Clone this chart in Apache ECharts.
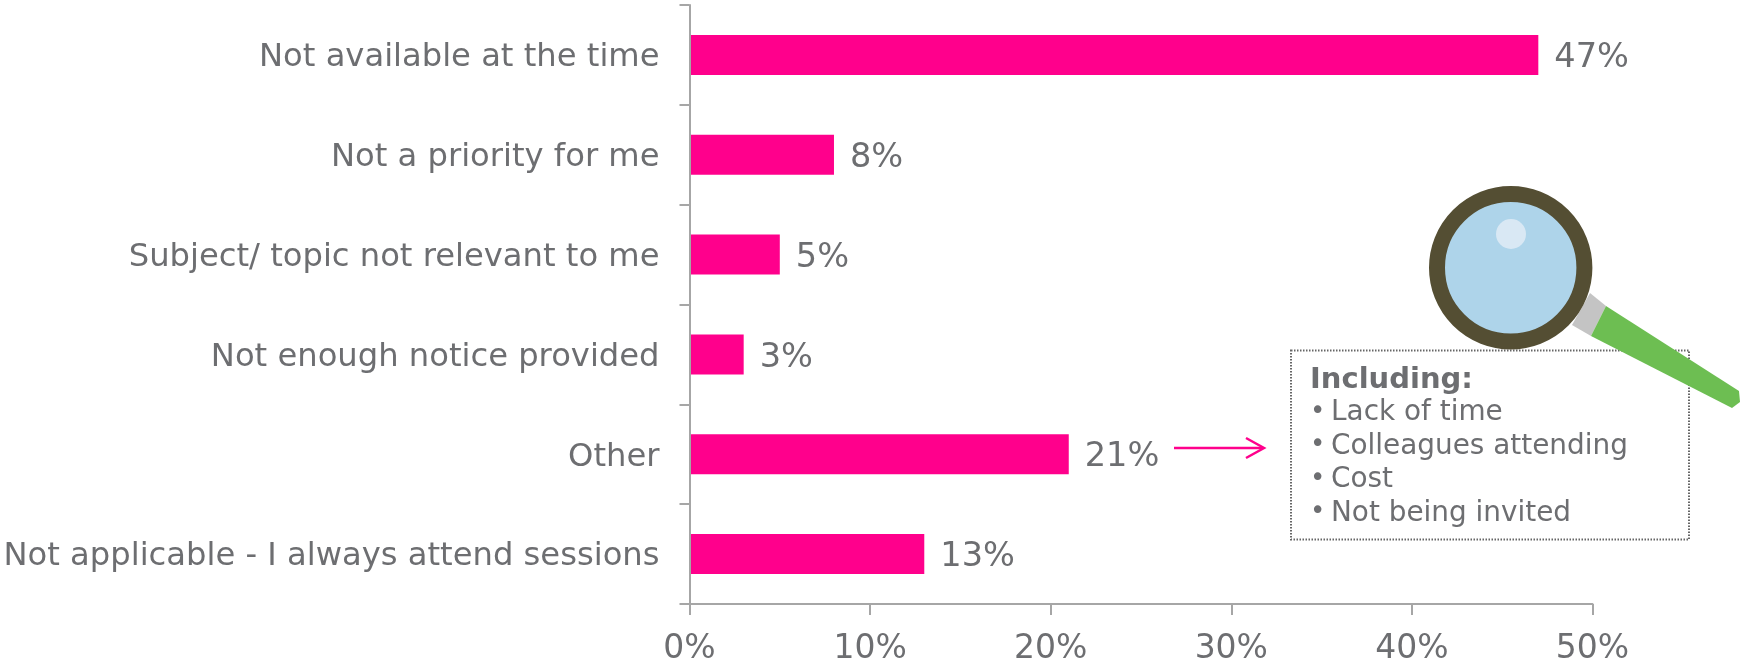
<!DOCTYPE html>
<html>
<head>
<meta charset="utf-8">
<style>html,body{margin:0;padding:0;background:#fff}#chart{width:1740px;height:663px}</style>
<script src="https://cdn.jsdelivr.net/npm/echarts@6/dist/echarts.min.js"></script>
</head>
<body>
<div id="chart"></div>
<script>
const categories = [
  'Not available at the time',
  'Not a priority for me',
  'Subject/ topic not relevant to me',
  'Not enough notice provided',
  'Other',
  'Not applicable - I always attend sessions'
];
const shares = [47, 8, 5, 3, 21, 13];
const otherReasonsTitle = 'Including:';
const otherReasons = ['Lack of time', 'Colleagues attending', 'Cost', 'Not being invited'];

const FONT = '"DejaVu Sans"';
const INK = '#6d6e71';
const AXIS = '#a6a6a6';
const PINK = '#ff008c';

const chart = echarts.init(document.getElementById('chart'), null, { renderer: 'canvas' });

chart.setOption({
  animation: false,
  backgroundColor: '#ffffff',
  grid: { left: 689.5, right: 147.5, top: 5, bottom: 59, outerBoundsMode: 'none' },
  xAxis: {
    type: 'value', min: 0, max: 50, interval: 10,
    z: 3,
    splitLine: { show: false },
    axisLine: { show: true, lineStyle: { color: AXIS, width: 2 } },
    axisTick: { show: true, length: 11, lineStyle: { color: AXIS, width: 2 } },
    axisLabel: { formatter: '{value}%', color: INK, fontFamily: FONT, fontSize: 33, margin: 29 }
  },
  yAxis: {
    type: 'category', inverse: true, data: categories,
    z: 3,
    axisLine: { show: true, onZero: false, lineStyle: { color: AXIS, width: 2 } },
    axisTick: { show: true, length: 10, lineStyle: { color: AXIS, width: 2 } },
    // a small top-anchored line box sets the text just below the tick centre
    axisLabel: { color: INK, fontFamily: FONT, fontSize: 32.2, margin: 30, verticalAlign: 'top', lineHeight: 6 }
  },
  series: [{
    type: 'bar', data: shares, barWidth: 40,
    itemStyle: { color: PINK },
    label: {
      show: true, position: 'right', distance: 16, formatter: '{c}%',
      color: INK, fontFamily: FONT, fontSize: 33.6, verticalAlign: 'top', lineHeight: 7
    }
  }],
  graphic: [
    // arrow from the "Other" bar to its breakdown
    { type: 'polyline', z: 10, shape: { points: [[1174, 448], [1263, 448]] }, style: { stroke: PINK, lineWidth: 2.5, fill: null } },
    { type: 'polyline', z: 10, shape: { points: [[1246, 438], [1264, 448], [1246, 458]] }, style: { stroke: PINK, lineWidth: 2.5, fill: null } },
    // breakdown box
    { type: 'rect', z: 10, shape: { x: 1291, y: 350.5, width: 398, height: 189 },
      style: { fill: '#fff', stroke: '#666666', lineWidth: 2, lineDash: [1.5, 1.5] } },
    { type: 'text', z: 11, x: 1310, y: 380, style: { text: otherReasonsTitle, fill: INK, font: 'bold 29px ' + FONT, textVerticalAlign: 'middle' } },
    ...otherReasons.map((t, i) => ({
      type: 'text', z: 11, x: 1310, y: 412 + i * 33.5,
      style: { text: '\u2022', fill: INK, font: '26px ' + FONT, textVerticalAlign: 'middle' }
    })),
    ...otherReasons.map((t, i) => ({
      type: 'text', z: 11, x: 1331, y: 413 + i * 33.5,
      style: { text: t, fill: INK, font: '27.9px ' + FONT, textVerticalAlign: 'middle' }
    })),
    // magnifying glass
    { type: 'polygon', z: 12, shape: { points: [[1590, 293], [1606, 306], [1591, 336], [1572, 325]] }, style: { fill: '#c4c4c4' } },
    { type: 'polygon', z: 12, shape: { points: [[1606, 306], [1739, 391], [1740, 402], [1732, 408], [1591, 336]] }, style: { fill: '#6dbe52' } },
    { type: 'circle', z: 13, shape: { cx: 1510.7, cy: 267.7, r: 73.7 }, style: { fill: '#aed4ea', stroke: '#544e33', lineWidth: 16 } },
    { type: 'circle', z: 14, shape: { cx: 1511, cy: 234, r: 15 }, style: { fill: '#d9e8f4' } }
  ]
});
</script>
</body>
</html>
